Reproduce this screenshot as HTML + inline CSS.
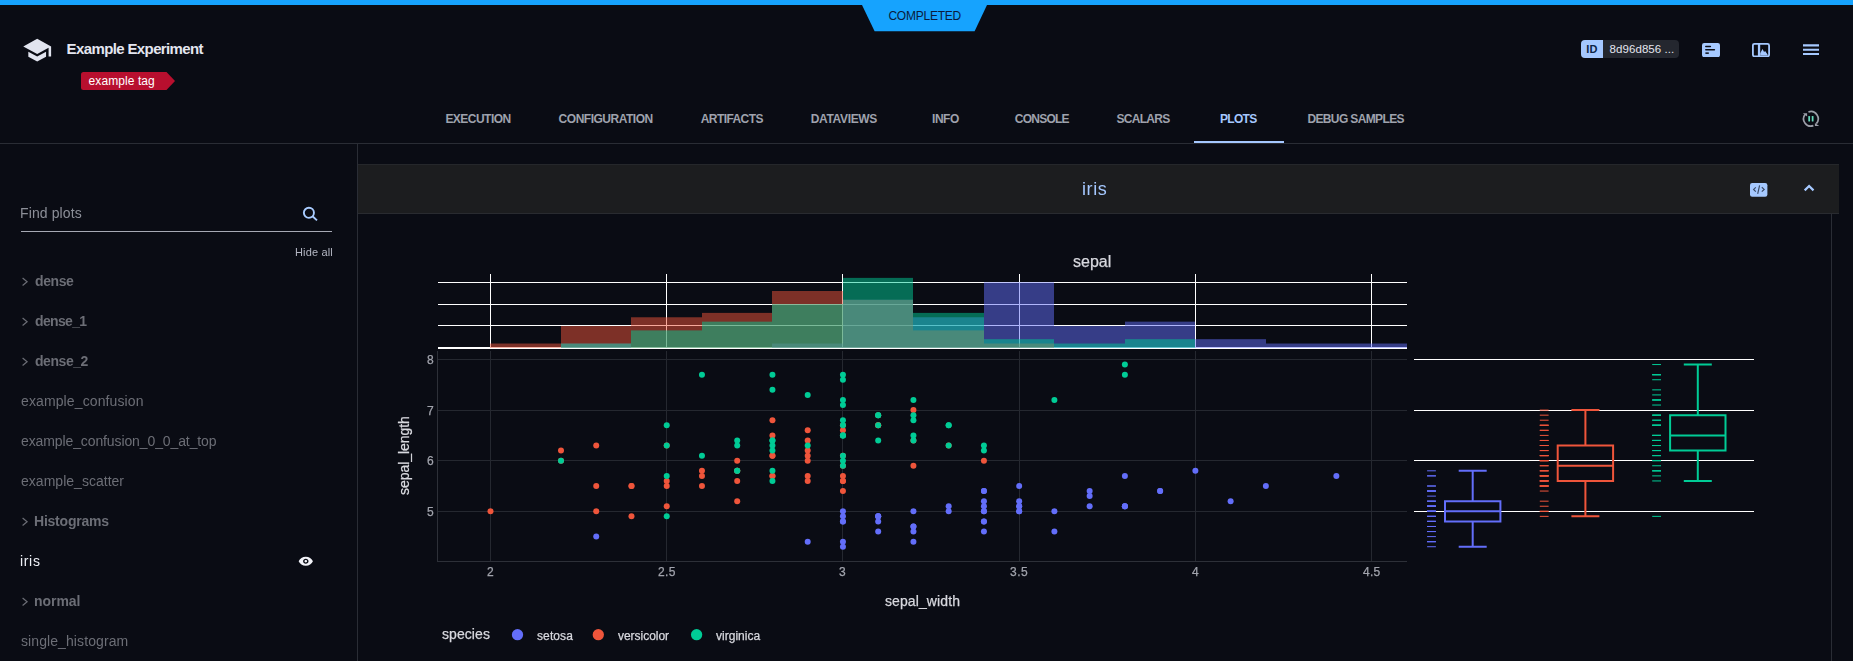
<!DOCTYPE html>
<html><head><meta charset="utf-8"><title>Example Experiment</title>
<style>
html,body{margin:0;padding:0;background:#0a0c14;}
body{width:1853px;height:661px;position:relative;overflow:hidden;font-family:"Liberation Sans",sans-serif;}
.a{position:absolute;display:block}
.t{position:absolute;white-space:pre;line-height:normal;display:block}
.y{will-change:transform}
.g{will-change:transform;-webkit-text-stroke:0.25px currentColor}
#topbar{position:absolute;left:0;top:0;width:1853px;height:5px;background:#16a3fe}
#badge{position:absolute;left:862.0px;top:4.7px}
</style></head><body>
<div id="topbar"></div>
<svg id="badge" width="126" height="27" viewBox="0 0 126 27"><path d="M0 0H125L112.6 26.3H12.6Z" fill="#16a3fe"/></svg>
<span class="t" style="left:888.46px;top:8.94px;font-size:12px;color:#0a1c3c;letter-spacing:-0.248px;">COMPLETED</span>
<svg class="a" style="left:22.3px;top:34.9px" width="30.4" height="30.4" viewBox="0 0 24 24"><path fill="#e1e4ef" d="M5 13.18v4L12 21l7-3.82v-4L12 17l-7-3.82zM12 3L1 9l11 6 9-4.91V17h2V9L12 3z"/></svg>
<span class="t" style="left:66.61px;top:39.78px;font-size:15px;color:#e4e6f0;letter-spacing:-0.623px;font-weight:700;">Example Experiment</span>
<svg class="a" style="left:81px;top:72px" width="95" height="18" viewBox="0 0 95 18"><path d="M2.5 0H85.5L94 9L85.5 18H2.5Q0 18 0 15.5V2.5Q0 0 2.5 0Z" fill="#b80f2e"/></svg>
<span class="t" style="left:88.59px;top:73.95px;font-size:12px;color:#ffffff;letter-spacing:0.082px;">example tag</span>
<div class="a" style="left:1581px;top:40px;width:98px;height:18px;border-radius:4px;background:#24272f;overflow:hidden"><div style="width:22px;height:18px;background:#a5c8ff"></div></div>
<span class="t" style="left:1586.37px;top:42.86px;font-size:11px;color:#0c2446;letter-spacing:0.071px;font-weight:700;">ID</span>
<span class="t" style="left:1609.60px;top:42.90px;font-size:11.5px;color:#e3e5ee;letter-spacing:0.064px;">8d96d856 ...</span>
<svg class="a" style="left:1702px;top:42.8px" width="18" height="14.2" viewBox="0 0 18 14.2"><rect width="18" height="14.2" rx="2.2" fill="#a6c9ff"/><g stroke="#0a0c14" stroke-width="1.5" stroke-linecap="round"><path d="M3.8 3.55H8.4M3.8 6.75H12.4"/><path d="M3.4 10.15H6.8" stroke-linecap="butt"/></g></svg>
<svg class="a" style="left:1752px;top:42.8px" width="18" height="14.2" viewBox="0 0 18 14.2"><rect x="0.9" y="0.9" width="16.2" height="12.4" rx="1.6" fill="none" stroke="#a6c9ff" stroke-width="1.8"/><rect x="5.9" y="1" width="2.3" height="12" fill="#a6c9ff"/><path d="M8.2 12.4V10.3L10.5 6.1L12.1 9.1L13.1 8.0L15.6 11.4V12.4Z" fill="#a6c9ff"/></svg>
<svg class="a" style="left:1802px;top:43px" width="18" height="14" viewBox="0 0 18 14"><g stroke="#a6c9ff" stroke-width="2.1"><path d="M1 2.4H17M1 6.7H17M1 11H17"/></g></svg>
<span class="t" style="left:445.38px;top:111.94px;font-size:12px;color:#9fa2ad;letter-spacing:-0.520px;font-weight:700;">EXECUTION</span>
<span class="t" style="left:558.62px;top:111.94px;font-size:12px;color:#9fa2ad;letter-spacing:-0.485px;font-weight:700;">CONFIGURATION</span>
<span class="t" style="left:700.71px;top:111.94px;font-size:12px;color:#9fa2ad;letter-spacing:-0.569px;font-weight:700;">ARTIFACTS</span>
<span class="t" style="left:810.79px;top:111.94px;font-size:12px;color:#9fa2ad;letter-spacing:-0.358px;font-weight:700;">DATAVIEWS</span>
<span class="t" style="left:932.00px;top:111.94px;font-size:12px;color:#9fa2ad;letter-spacing:-0.453px;font-weight:700;">INFO</span>
<span class="t" style="left:1014.85px;top:111.94px;font-size:12px;color:#9fa2ad;letter-spacing:-0.772px;font-weight:700;">CONSOLE</span>
<span class="t" style="left:1116.40px;top:111.94px;font-size:12px;color:#9fa2ad;letter-spacing:-0.693px;font-weight:700;">SCALARS</span>
<span class="t" style="left:1220.00px;top:111.94px;font-size:12px;color:#a5c8ff;letter-spacing:-0.706px;font-weight:700;">PLOTS</span>
<span class="t" style="left:1307.38px;top:111.94px;font-size:12px;color:#9fa2ad;letter-spacing:-0.622px;font-weight:700;">DEBUG SAMPLES</span>
<div class="a" style="left:0;top:143px;width:1853px;height:1px;background:#2a2d35"></div>
<div class="a" style="left:1194px;top:141px;width:90px;height:2px;background:#a5c8ff"></div>
<svg class="a" style="left:1799px;top:107px" width="24" height="24" viewBox="0 0 24 24"><g fill="none" stroke="#9b9ea8" stroke-width="1.7"><path d="M9.40 4.94A7.3 7.3 0 0 1 17.32 16.68"/><path d="M14.40 18.66A7.3 7.3 0 0 1 5.99 7.51"/></g><path d="M3.8 6.2H8.1V9.6ZM15.9 15.9V19.0H20.2Z" fill="#9b9ea8"/><rect x="9.3" y="9.0" width="1.75" height="5.6" rx="0.6" fill="#66d9bb"/><rect x="12.75" y="9.0" width="1.75" height="5.6" rx="0.6" fill="#66d9bb"/></svg>
<div class="a" style="left:357px;top:144px;width:1px;height:517px;background:#2a2d35"></div>
<span class="t y" style="left:19.81px;top:205.10px;font-size:14px;color:#8c8f98;letter-spacing:0.114px;">Find plots</span>
<div class="a" style="left:21px;top:231px;width:311px;height:1px;background:#a6a9b4"></div>
<svg class="a" style="left:301px;top:205px" width="20" height="20" viewBox="0 0 20 20"><circle cx="7.9" cy="7.8" r="5.05" fill="none" stroke="#a9ccff" stroke-width="1.9"/><path d="M11.5 11.3L16.0 15.4" stroke="#a9ccff" stroke-width="1.9"/></svg>
<span class="t y" style="left:294.59px;top:246.23px;font-size:11px;color:#b3b6c2;letter-spacing:0.158px;">Hide all</span>
<span class="t y" style="left:35.10px;top:273.10px;font-size:14px;color:#6c6e76;letter-spacing:-0.409px;font-weight:700;">dense</span>
<svg class="a" style="left:20px;top:274.9px" width="10" height="12" viewBox="0 0 10 12"><path d="M2.6 3.0L7.1 6.75L2.6 10.5" fill="none" stroke="#6c6e76" stroke-width="1.2"/></svg>
<span class="t y" style="left:35.10px;top:313.10px;font-size:14px;color:#6c6e76;letter-spacing:-0.663px;font-weight:700;">dense_1</span>
<svg class="a" style="left:20px;top:314.9px" width="10" height="12" viewBox="0 0 10 12"><path d="M2.6 3.0L7.1 6.75L2.6 10.5" fill="none" stroke="#6c6e76" stroke-width="1.2"/></svg>
<span class="t y" style="left:35.10px;top:353.10px;font-size:14px;color:#6c6e76;letter-spacing:-0.443px;font-weight:700;">dense_2</span>
<svg class="a" style="left:20px;top:354.9px" width="10" height="12" viewBox="0 0 10 12"><path d="M2.6 3.0L7.1 6.75L2.6 10.5" fill="none" stroke="#6c6e76" stroke-width="1.2"/></svg>
<span class="t y" style="left:21.05px;top:393.10px;font-size:14px;color:#6c6e76;letter-spacing:0.116px;">example_confusion</span>
<span class="t y" style="left:21.05px;top:433.10px;font-size:14px;color:#6c6e76;letter-spacing:-0.108px;">example_confusion_0_0_at_top</span>
<span class="t y" style="left:21.05px;top:473.10px;font-size:14px;color:#6c6e76;letter-spacing:0.022px;">example_scatter</span>
<span class="t y" style="left:34.09px;top:513.10px;font-size:14px;color:#6c6e76;letter-spacing:-0.225px;font-weight:700;">Histograms</span>
<svg class="a" style="left:20px;top:514.9px" width="10" height="12" viewBox="0 0 10 12"><path d="M2.6 3.0L7.1 6.75L2.6 10.5" fill="none" stroke="#6c6e76" stroke-width="1.2"/></svg>
<span class="t y" style="left:20.21px;top:553.10px;font-size:14px;color:#eef0f6;letter-spacing:0.667px;">iris</span>
<span class="t y" style="left:34.09px;top:593.10px;font-size:14px;color:#6c6e76;letter-spacing:-0.058px;font-weight:700;">normal</span>
<svg class="a" style="left:20px;top:594.9px" width="10" height="12" viewBox="0 0 10 12"><path d="M2.6 3.0L7.1 6.75L2.6 10.5" fill="none" stroke="#6c6e76" stroke-width="1.2"/></svg>
<span class="t y" style="left:20.88px;top:633.10px;font-size:14px;color:#6c6e76;letter-spacing:0.089px;">single_histogram</span>
<svg class="a" style="left:298.2px;top:554.0px" width="15.6" height="14.4" preserveAspectRatio="none" viewBox="0 0 24 24"><path fill="#f1f2f7" fill-rule="evenodd" d="M12 4.5C7 4.5 2.73 7.61 1 12c1.73 4.39 6 7.5 11 7.5s9.27-3.11 11-7.5c-1.73-4.39-6-7.5-11-7.5zM12 16.2c-2.3 0-4.2-1.9-4.2-4.2s1.9-4.2 4.2-4.2 4.2 1.9 4.2 4.2-1.9 4.2-4.2 4.2zm0-6.2c-1.1 0-2 .9-2 2s.9 2 2 2 2-.9 2-2-.9-2-2-2z"/></svg>
<div class="a" style="left:358px;top:164px;width:1481px;height:50px;background:#1c1d1f;box-sizing:border-box;border-top:1px solid #25272b;border-bottom:1px solid #292b30"></div>
<span class="t y" style="left:1081.58px;top:179.41px;font-size:18px;color:#a5c8ff;letter-spacing:0.622px;">iris</span>
<svg class="a" style="left:1750.3px;top:183px" width="17.4" height="13.7" viewBox="0 0 17.4 13.7"><rect width="17.4" height="13.7" rx="2.2" fill="#a6c9ff"/><g fill="none" stroke="#3a4965" stroke-width="1.15"><path d="M5.8 4.3L3.6 6.45L5.8 8.7M11.8 4.3L14.2 6.45L11.8 8.7M9.6 2.3L7.7 10.9"/></g></svg>
<svg class="a" style="left:1802px;top:183px" width="14" height="10" viewBox="0 0 14 10"><path d="M2.7 7.4L7.1 3.0L11.5 7.4" fill="none" stroke="#a6c9ff" stroke-width="2.2"/></svg>
<div class="a" style="left:1831px;top:214px;width:1px;height:447px;background:#2a2d35"></div>
<svg class="a" style="left:0;top:0" width="1853" height="661" viewBox="0 0 1853 661"><g shape-rendering="crispEdges"><rect x="490" y="274" width="1" height="73" fill="#fff"/><rect x="666" y="274" width="1" height="73" fill="#fff"/><rect x="842" y="274" width="1" height="73" fill="#fff"/><rect x="1019" y="274" width="1" height="73" fill="#fff"/><rect x="1195" y="274" width="1" height="73" fill="#fff"/><rect x="1371" y="274" width="1" height="73" fill="#fff"/><rect x="438" y="282" width="969" height="1" fill="#fff"/><rect x="438" y="304" width="969" height="1" fill="#fff"/><rect x="438" y="325" width="969" height="1" fill="#fff"/><rect x="438" y="347" width="969" height="2" fill="#fff"/></g><clipPath id="hc"><rect x="437.6" y="274.2" width="969.4" height="73.69999999999999"/></clipPath><g clip-path="url(#hc)"><g fill="#636efa" opacity="0.5"><rect x="561" y="343.52" width="70" height="4.38"/><rect x="772" y="343.52" width="71" height="4.38"/><rect x="843" y="299.76" width="70" height="48.14"/><rect x="913" y="317.27" width="71" height="30.63"/><rect x="984" y="282.26" width="70" height="65.64"/><rect x="1054" y="326.02" width="71" height="21.88"/><rect x="1125" y="321.64" width="70" height="26.26"/><rect x="1195" y="339.15" width="71" height="8.75"/><rect x="1266" y="343.52" width="70" height="4.38"/><rect x="1336" y="343.52" width="71" height="4.38"/></g><g fill="#ef553b" opacity="0.5"><rect x="490" y="343.52" width="71" height="4.38"/><rect x="561" y="326.02" width="70" height="21.88"/><rect x="631" y="317.27" width="71" height="30.63"/><rect x="702" y="312.89" width="70" height="35.01"/><rect x="772" y="291.01" width="71" height="56.89"/><rect x="843" y="299.76" width="70" height="48.14"/><rect x="913" y="330.40" width="71" height="17.50"/><rect x="984" y="343.52" width="70" height="4.38"/></g><g fill="#00cc96" opacity="0.5"><rect x="561" y="343.52" width="70" height="4.38"/><rect x="631" y="330.40" width="71" height="17.50"/><rect x="702" y="321.64" width="70" height="26.26"/><rect x="772" y="304.14" width="71" height="43.76"/><rect x="843" y="277.88" width="70" height="70.02"/><rect x="913" y="312.89" width="71" height="35.01"/><rect x="984" y="339.15" width="70" height="8.75"/><rect x="1054" y="343.52" width="71" height="4.38"/><rect x="1125" y="339.15" width="70" height="8.75"/></g></g><g shape-rendering="crispEdges"><rect x="490" y="351" width="1" height="210" fill="#252830"/><rect x="666" y="351" width="1" height="210" fill="#252830"/><rect x="842" y="351" width="1" height="210" fill="#252830"/><rect x="1019" y="351" width="1" height="210" fill="#252830"/><rect x="1195" y="351" width="1" height="210" fill="#252830"/><rect x="1371" y="351" width="1" height="210" fill="#252830"/><rect x="438" y="359" width="969" height="1" fill="#252830"/><rect x="438" y="410" width="969" height="1" fill="#252830"/><rect x="438" y="460" width="969" height="1" fill="#252830"/><rect x="438" y="511" width="969" height="1" fill="#252830"/><rect x="437" y="351" width="1" height="211" fill="#2d3038"/><rect x="437" y="561" width="970" height="1" fill="#2d3038"/></g><g fill="#636efa"><circle cx="1019.16" cy="506.24" r="3"/><circle cx="842.94" cy="516.36" r="3"/><circle cx="913.43" cy="526.48" r="3"/><circle cx="878.18" cy="531.54" r="3"/><circle cx="1054.40" cy="511.30" r="3"/><circle cx="1160.14" cy="491.06" r="3"/><circle cx="983.92" cy="531.54" r="3"/><circle cx="983.92" cy="511.30" r="3"/><circle cx="807.70" cy="541.66" r="3"/><circle cx="878.18" cy="516.36" r="3"/><circle cx="1089.65" cy="491.06" r="3"/><circle cx="983.92" cy="521.42" r="3"/><circle cx="842.94" cy="521.42" r="3"/><circle cx="842.94" cy="546.72" r="3"/><circle cx="1195.38" cy="470.82" r="3"/><circle cx="1336.36" cy="475.88" r="3"/><circle cx="1160.14" cy="491.06" r="3"/><circle cx="1019.16" cy="506.24" r="3"/><circle cx="1124.89" cy="475.88" r="3"/><circle cx="1124.89" cy="506.24" r="3"/><circle cx="983.92" cy="491.06" r="3"/><circle cx="1089.65" cy="506.24" r="3"/><circle cx="1054.40" cy="531.54" r="3"/><circle cx="948.67" cy="506.24" r="3"/><circle cx="983.92" cy="521.42" r="3"/><circle cx="842.94" cy="511.30" r="3"/><circle cx="983.92" cy="511.30" r="3"/><circle cx="1019.16" cy="501.18" r="3"/><circle cx="983.92" cy="501.18" r="3"/><circle cx="913.43" cy="526.48" r="3"/><circle cx="878.18" cy="521.42" r="3"/><circle cx="983.92" cy="491.06" r="3"/><circle cx="1230.62" cy="501.18" r="3"/><circle cx="1265.87" cy="486.00" r="3"/><circle cx="878.18" cy="516.36" r="3"/><circle cx="913.43" cy="511.30" r="3"/><circle cx="1019.16" cy="486.00" r="3"/><circle cx="878.18" cy="516.36" r="3"/><circle cx="842.94" cy="541.66" r="3"/><circle cx="983.92" cy="506.24" r="3"/><circle cx="1019.16" cy="511.30" r="3"/><circle cx="596.23" cy="536.60" r="3"/><circle cx="913.43" cy="541.66" r="3"/><circle cx="1019.16" cy="511.30" r="3"/><circle cx="1124.89" cy="506.24" r="3"/><circle cx="842.94" cy="521.42" r="3"/><circle cx="1124.89" cy="506.24" r="3"/><circle cx="913.43" cy="531.54" r="3"/><circle cx="1089.65" cy="496.12" r="3"/><circle cx="948.67" cy="511.30" r="3"/></g><g fill="#ef553b"><circle cx="913.43" cy="410.10" r="3"/><circle cx="913.43" cy="440.46" r="3"/><circle cx="878.18" cy="415.16" r="3"/><circle cx="596.23" cy="486.00" r="3"/><circle cx="772.45" cy="435.40" r="3"/><circle cx="772.45" cy="475.88" r="3"/><circle cx="948.67" cy="445.52" r="3"/><circle cx="631.48" cy="516.36" r="3"/><circle cx="807.70" cy="430.34" r="3"/><circle cx="737.21" cy="501.18" r="3"/><circle cx="490.50" cy="511.30" r="3"/><circle cx="842.94" cy="465.76" r="3"/><circle cx="560.99" cy="460.70" r="3"/><circle cx="807.70" cy="455.64" r="3"/><circle cx="807.70" cy="480.94" r="3"/><circle cx="878.18" cy="425.28" r="3"/><circle cx="842.94" cy="480.94" r="3"/><circle cx="737.21" cy="470.82" r="3"/><circle cx="560.99" cy="450.58" r="3"/><circle cx="666.72" cy="480.94" r="3"/><circle cx="913.43" cy="465.76" r="3"/><circle cx="772.45" cy="455.64" r="3"/><circle cx="666.72" cy="445.52" r="3"/><circle cx="772.45" cy="455.64" r="3"/><circle cx="807.70" cy="440.46" r="3"/><circle cx="842.94" cy="430.34" r="3"/><circle cx="772.45" cy="420.22" r="3"/><circle cx="842.94" cy="425.28" r="3"/><circle cx="807.70" cy="460.70" r="3"/><circle cx="701.96" cy="475.88" r="3"/><circle cx="631.48" cy="486.00" r="3"/><circle cx="631.48" cy="486.00" r="3"/><circle cx="737.21" cy="470.82" r="3"/><circle cx="737.21" cy="460.70" r="3"/><circle cx="842.94" cy="491.06" r="3"/><circle cx="983.92" cy="460.70" r="3"/><circle cx="878.18" cy="425.28" r="3"/><circle cx="596.23" cy="445.52" r="3"/><circle cx="842.94" cy="480.94" r="3"/><circle cx="666.72" cy="486.00" r="3"/><circle cx="701.96" cy="486.00" r="3"/><circle cx="842.94" cy="455.64" r="3"/><circle cx="701.96" cy="470.82" r="3"/><circle cx="596.23" cy="511.30" r="3"/><circle cx="737.21" cy="480.94" r="3"/><circle cx="842.94" cy="475.88" r="3"/><circle cx="807.70" cy="475.88" r="3"/><circle cx="807.70" cy="450.58" r="3"/><circle cx="666.72" cy="506.24" r="3"/><circle cx="772.45" cy="475.88" r="3"/></g><g fill="#00cc96"><circle cx="948.67" cy="445.52" r="3"/><circle cx="737.21" cy="470.82" r="3"/><circle cx="842.94" cy="405.04" r="3"/><circle cx="807.70" cy="445.52" r="3"/><circle cx="842.94" cy="435.40" r="3"/><circle cx="842.94" cy="379.74" r="3"/><circle cx="666.72" cy="516.36" r="3"/><circle cx="807.70" cy="394.92" r="3"/><circle cx="666.72" cy="425.28" r="3"/><circle cx="1054.40" cy="399.98" r="3"/><circle cx="913.43" cy="435.40" r="3"/><circle cx="737.21" cy="440.46" r="3"/><circle cx="842.94" cy="420.22" r="3"/><circle cx="666.72" cy="475.88" r="3"/><circle cx="772.45" cy="470.82" r="3"/><circle cx="913.43" cy="440.46" r="3"/><circle cx="842.94" cy="435.40" r="3"/><circle cx="1124.89" cy="374.68" r="3"/><circle cx="701.96" cy="374.68" r="3"/><circle cx="560.99" cy="460.70" r="3"/><circle cx="913.43" cy="415.16" r="3"/><circle cx="772.45" cy="480.94" r="3"/><circle cx="772.45" cy="374.68" r="3"/><circle cx="737.21" cy="445.52" r="3"/><circle cx="948.67" cy="425.28" r="3"/><circle cx="913.43" cy="399.98" r="3"/><circle cx="772.45" cy="450.58" r="3"/><circle cx="842.94" cy="455.64" r="3"/><circle cx="772.45" cy="440.46" r="3"/><circle cx="842.94" cy="399.98" r="3"/><circle cx="772.45" cy="389.86" r="3"/><circle cx="1124.89" cy="364.56" r="3"/><circle cx="772.45" cy="440.46" r="3"/><circle cx="772.45" cy="445.52" r="3"/><circle cx="701.96" cy="455.64" r="3"/><circle cx="842.94" cy="374.68" r="3"/><circle cx="983.92" cy="445.52" r="3"/><circle cx="878.18" cy="440.46" r="3"/><circle cx="842.94" cy="460.70" r="3"/><circle cx="878.18" cy="415.16" r="3"/><circle cx="878.18" cy="425.28" r="3"/><circle cx="878.18" cy="415.16" r="3"/><circle cx="737.21" cy="470.82" r="3"/><circle cx="913.43" cy="420.22" r="3"/><circle cx="948.67" cy="425.28" r="3"/><circle cx="842.94" cy="425.28" r="3"/><circle cx="666.72" cy="445.52" r="3"/><circle cx="842.94" cy="435.40" r="3"/><circle cx="983.92" cy="450.58" r="3"/><circle cx="842.94" cy="465.76" r="3"/></g><g shape-rendering="crispEdges"><rect x="1414" y="359" width="340" height="1" fill="#fff"/><rect x="1414" y="410" width="340" height="1" fill="#fff"/><rect x="1414" y="460" width="340" height="1" fill="#fff"/><rect x="1414" y="511" width="340" height="1" fill="#fff"/></g><g fill="none" stroke="#636efa" stroke-width="2"><path d="M1445.00 511.30H1500.40M1445.00 521.42H1500.40V501.18H1445.00Z"/><path d="M1472.70 521.42V546.72M1472.70 501.18V470.82M1458.70 546.72H1486.70M1458.70 470.82H1486.70"/></g><g fill="none" stroke="#636efa" stroke-width="1"><path d="M1427.10 506.24H1435.90"/><path d="M1427.10 516.36H1435.90"/><path d="M1427.10 526.48H1435.90"/><path d="M1427.10 531.54H1435.90"/><path d="M1427.10 511.30H1435.90"/><path d="M1427.10 491.06H1435.90"/><path d="M1427.10 531.54H1435.90"/><path d="M1427.10 511.30H1435.90"/><path d="M1427.10 541.66H1435.90"/><path d="M1427.10 516.36H1435.90"/><path d="M1427.10 491.06H1435.90"/><path d="M1427.10 521.42H1435.90"/><path d="M1427.10 521.42H1435.90"/><path d="M1427.10 546.72H1435.90"/><path d="M1427.10 470.82H1435.90"/><path d="M1427.10 475.88H1435.90"/><path d="M1427.10 491.06H1435.90"/><path d="M1427.10 506.24H1435.90"/><path d="M1427.10 475.88H1435.90"/><path d="M1427.10 506.24H1435.90"/><path d="M1427.10 491.06H1435.90"/><path d="M1427.10 506.24H1435.90"/><path d="M1427.10 531.54H1435.90"/><path d="M1427.10 506.24H1435.90"/><path d="M1427.10 521.42H1435.90"/><path d="M1427.10 511.30H1435.90"/><path d="M1427.10 511.30H1435.90"/><path d="M1427.10 501.18H1435.90"/><path d="M1427.10 501.18H1435.90"/><path d="M1427.10 526.48H1435.90"/><path d="M1427.10 521.42H1435.90"/><path d="M1427.10 491.06H1435.90"/><path d="M1427.10 501.18H1435.90"/><path d="M1427.10 486.00H1435.90"/><path d="M1427.10 516.36H1435.90"/><path d="M1427.10 511.30H1435.90"/><path d="M1427.10 486.00H1435.90"/><path d="M1427.10 516.36H1435.90"/><path d="M1427.10 541.66H1435.90"/><path d="M1427.10 506.24H1435.90"/><path d="M1427.10 511.30H1435.90"/><path d="M1427.10 536.60H1435.90"/><path d="M1427.10 541.66H1435.90"/><path d="M1427.10 511.30H1435.90"/><path d="M1427.10 506.24H1435.90"/><path d="M1427.10 521.42H1435.90"/><path d="M1427.10 506.24H1435.90"/><path d="M1427.10 531.54H1435.90"/><path d="M1427.10 496.12H1435.90"/><path d="M1427.10 511.30H1435.90"/></g><g fill="none" stroke="#ef553b" stroke-width="2"><path d="M1557.70 465.76H1613.10M1557.70 480.94H1613.10V445.52H1557.70Z"/><path d="M1585.40 480.94V516.36M1585.40 445.52V410.10M1571.40 516.36H1599.40M1571.40 410.10H1599.40"/></g><g fill="none" stroke="#ef553b" stroke-width="1"><path d="M1539.80 410.10H1548.60"/><path d="M1539.80 440.46H1548.60"/><path d="M1539.80 415.16H1548.60"/><path d="M1539.80 486.00H1548.60"/><path d="M1539.80 435.40H1548.60"/><path d="M1539.80 475.88H1548.60"/><path d="M1539.80 445.52H1548.60"/><path d="M1539.80 516.36H1548.60"/><path d="M1539.80 430.34H1548.60"/><path d="M1539.80 501.18H1548.60"/><path d="M1539.80 511.30H1548.60"/><path d="M1539.80 465.76H1548.60"/><path d="M1539.80 460.70H1548.60"/><path d="M1539.80 455.64H1548.60"/><path d="M1539.80 480.94H1548.60"/><path d="M1539.80 425.28H1548.60"/><path d="M1539.80 480.94H1548.60"/><path d="M1539.80 470.82H1548.60"/><path d="M1539.80 450.58H1548.60"/><path d="M1539.80 480.94H1548.60"/><path d="M1539.80 465.76H1548.60"/><path d="M1539.80 455.64H1548.60"/><path d="M1539.80 445.52H1548.60"/><path d="M1539.80 455.64H1548.60"/><path d="M1539.80 440.46H1548.60"/><path d="M1539.80 430.34H1548.60"/><path d="M1539.80 420.22H1548.60"/><path d="M1539.80 425.28H1548.60"/><path d="M1539.80 460.70H1548.60"/><path d="M1539.80 475.88H1548.60"/><path d="M1539.80 486.00H1548.60"/><path d="M1539.80 486.00H1548.60"/><path d="M1539.80 470.82H1548.60"/><path d="M1539.80 460.70H1548.60"/><path d="M1539.80 491.06H1548.60"/><path d="M1539.80 460.70H1548.60"/><path d="M1539.80 425.28H1548.60"/><path d="M1539.80 445.52H1548.60"/><path d="M1539.80 480.94H1548.60"/><path d="M1539.80 486.00H1548.60"/><path d="M1539.80 486.00H1548.60"/><path d="M1539.80 455.64H1548.60"/><path d="M1539.80 470.82H1548.60"/><path d="M1539.80 511.30H1548.60"/><path d="M1539.80 480.94H1548.60"/><path d="M1539.80 475.88H1548.60"/><path d="M1539.80 475.88H1548.60"/><path d="M1539.80 450.58H1548.60"/><path d="M1539.80 506.24H1548.60"/><path d="M1539.80 475.88H1548.60"/></g><g fill="none" stroke="#00cc96" stroke-width="2"><path d="M1670.10 435.40H1725.50M1670.10 450.58H1725.50V415.16H1670.10Z"/><path d="M1697.80 450.58V480.94M1697.80 415.16V364.56M1683.80 480.94H1711.80M1683.80 364.56H1711.80"/></g><g fill="none" stroke="#00cc96" stroke-width="1"><path d="M1652.20 445.52H1661.00"/><path d="M1652.20 470.82H1661.00"/><path d="M1652.20 405.04H1661.00"/><path d="M1652.20 445.52H1661.00"/><path d="M1652.20 435.40H1661.00"/><path d="M1652.20 379.74H1661.00"/><path d="M1652.20 516.36H1661.00"/><path d="M1652.20 394.92H1661.00"/><path d="M1652.20 425.28H1661.00"/><path d="M1652.20 399.98H1661.00"/><path d="M1652.20 435.40H1661.00"/><path d="M1652.20 440.46H1661.00"/><path d="M1652.20 420.22H1661.00"/><path d="M1652.20 475.88H1661.00"/><path d="M1652.20 470.82H1661.00"/><path d="M1652.20 440.46H1661.00"/><path d="M1652.20 435.40H1661.00"/><path d="M1652.20 374.68H1661.00"/><path d="M1652.20 374.68H1661.00"/><path d="M1652.20 460.70H1661.00"/><path d="M1652.20 415.16H1661.00"/><path d="M1652.20 480.94H1661.00"/><path d="M1652.20 374.68H1661.00"/><path d="M1652.20 445.52H1661.00"/><path d="M1652.20 425.28H1661.00"/><path d="M1652.20 399.98H1661.00"/><path d="M1652.20 450.58H1661.00"/><path d="M1652.20 455.64H1661.00"/><path d="M1652.20 440.46H1661.00"/><path d="M1652.20 399.98H1661.00"/><path d="M1652.20 389.86H1661.00"/><path d="M1652.20 364.56H1661.00"/><path d="M1652.20 440.46H1661.00"/><path d="M1652.20 445.52H1661.00"/><path d="M1652.20 455.64H1661.00"/><path d="M1652.20 374.68H1661.00"/><path d="M1652.20 445.52H1661.00"/><path d="M1652.20 440.46H1661.00"/><path d="M1652.20 460.70H1661.00"/><path d="M1652.20 415.16H1661.00"/><path d="M1652.20 425.28H1661.00"/><path d="M1652.20 415.16H1661.00"/><path d="M1652.20 470.82H1661.00"/><path d="M1652.20 420.22H1661.00"/><path d="M1652.20 425.28H1661.00"/><path d="M1652.20 425.28H1661.00"/><path d="M1652.20 445.52H1661.00"/><path d="M1652.20 435.40H1661.00"/><path d="M1652.20 450.58H1661.00"/><path d="M1652.20 465.76H1661.00"/></g><circle cx="517.5" cy="634.7" r="5.65" fill="#636efa"/><circle cx="598.3" cy="634.7" r="5.65" fill="#ef553b"/><circle cx="696.6" cy="634.7" r="5.65" fill="#00cc96"/></svg>
<span class="t g" style="left:1072.56px;top:253.26px;font-size:16px;color:#d8d9df;letter-spacing:0.007px;">sepal</span>
<span class="t g" style="left:426.99px;top:504.97px;font-size:12px;color:#a2a4ad;letter-spacing:-0.288px;">5</span>
<span class="t g" style="left:427.01px;top:454.03px;font-size:12px;color:#a2a4ad;letter-spacing:-0.288px;">6</span>
<span class="t g" style="left:427.25px;top:403.92px;font-size:12px;color:#a2a4ad;letter-spacing:-0.288px;">7</span>
<span class="t g" style="left:426.97px;top:353.00px;font-size:12px;color:#a2a4ad;letter-spacing:-0.288px;">8</span>
<span class="t g" style="left:486.79px;top:564.94px;font-size:12px;color:#a2a4ad;letter-spacing:-0.288px;">2</span>
<span class="t g" style="left:658.17px;top:564.94px;font-size:12px;color:#a2a4ad;letter-spacing:0.403px;">2.5</span>
<span class="t g" style="left:839.10px;top:565.00px;font-size:12px;color:#a2a4ad;letter-spacing:-0.287px;">3</span>
<span class="t g" style="left:1010.11px;top:564.97px;font-size:12px;color:#a2a4ad;letter-spacing:0.493px;">3.5</span>
<span class="t g" style="left:1192.26px;top:565.04px;font-size:12px;color:#a2a4ad;letter-spacing:-0.287px;">4</span>
<span class="t g" style="left:1362.68px;top:564.97px;font-size:12px;color:#a2a4ad;letter-spacing:0.222px;">4.5</span>
<span class="t g" style="left:885.00px;top:593.10px;font-size:14px;color:#d8d9df;letter-spacing:0.100px;">sepal_width</span>
<span class="t" style="-webkit-text-stroke:0.25px currentColor;left:403.9px;top:494.9px;font-size:14px;color:#d8d9df;letter-spacing:-0.046px;line-height:0;transform-origin:0 0;transform:rotate(-90deg)">sepal_length</span>
<span class="t g" style="left:441.93px;top:626.14px;font-size:14px;color:#d8d9df;letter-spacing:0.069px;">species</span>
<span class="t g" style="left:537.08px;top:629.04px;font-size:12px;color:#d8d9df;letter-spacing:0.103px;">setosa</span>
<span class="t g" style="left:617.79px;top:628.99px;font-size:12px;color:#d8d9df;letter-spacing:-0.029px;">versicolor</span>
<span class="t g" style="left:716.43px;top:629.03px;font-size:12px;color:#d8d9df;letter-spacing:0.020px;">virginica</span>
</body></html>
